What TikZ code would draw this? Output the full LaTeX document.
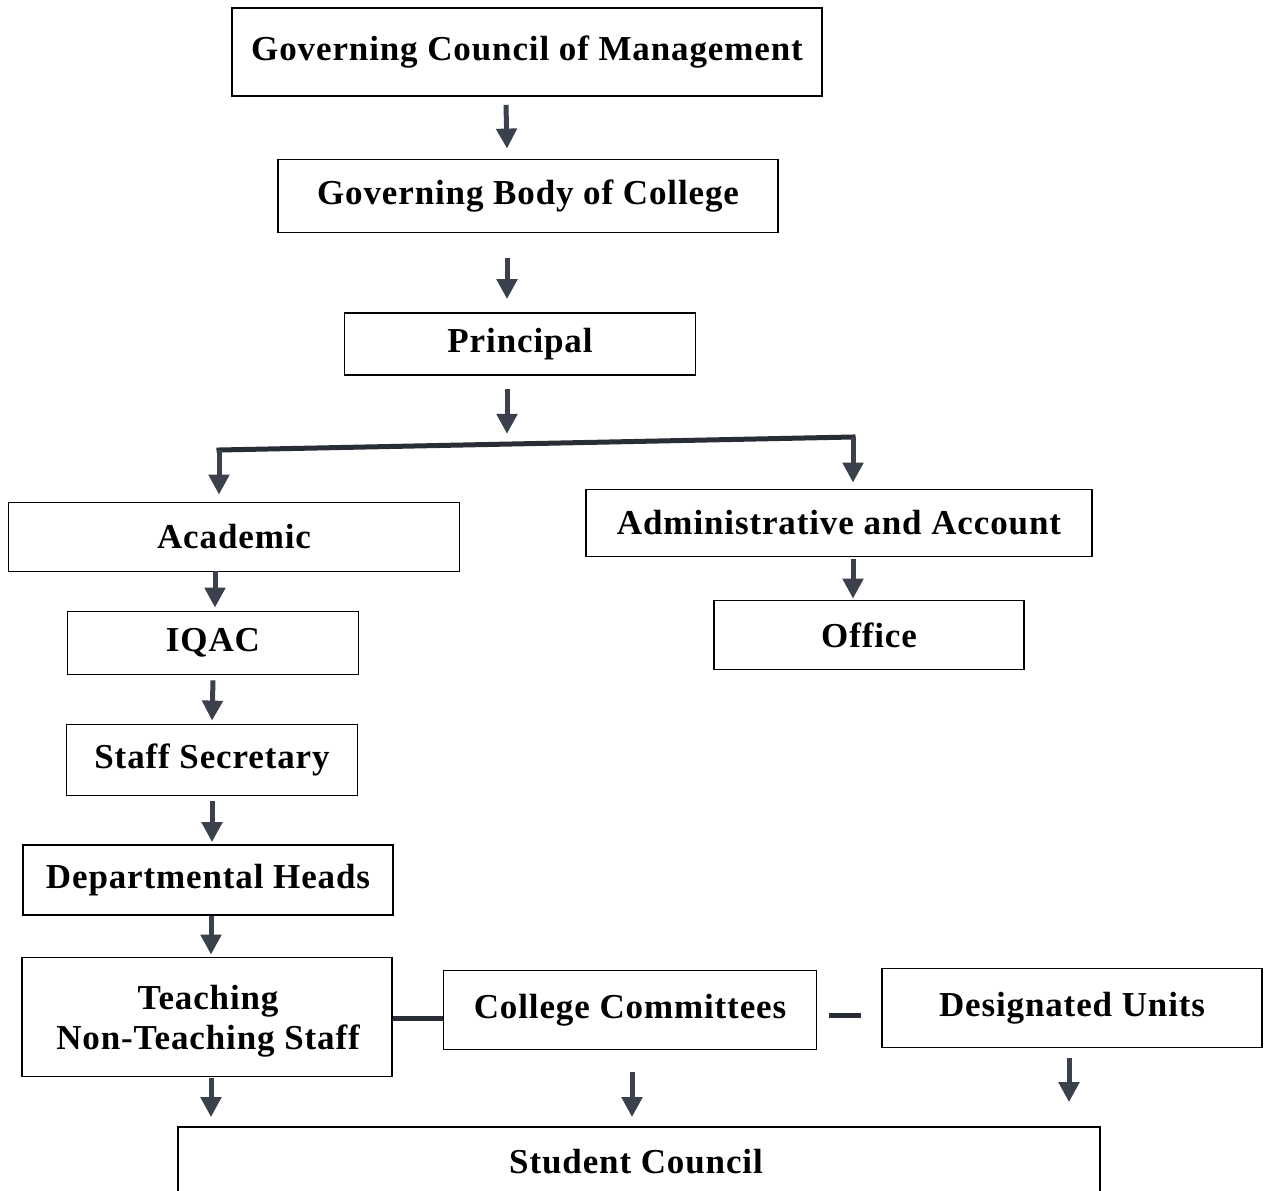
\documentclass[tikz,border=0pt]{standalone}
\usepackage{fontspec}
\setmainfont{Liberation Serif}[LetterSpace=2.5]
\usetikzlibrary{arrows.meta,calc}
\definecolor{arrowgray}{HTML}{3A404C}
\tikzset{
  box/.style={draw=black, line width=1.8pt, inner sep=0pt, align=center,
    font=\bfseries\fontsize{35}{40}\selectfont},
  boxtext/.style={inner sep=0pt, align=center, font=\bfseries\fontsize{35}{40}\selectfont},
  arr/.style={draw=arrowgray, line width=5pt,
    -{Triangle[width=20pt,length=20pt,fill=arrowgray]}},
  bar/.style={draw=arrowgray!70!black, line width=5pt},
}
\begin{document}
\begin{tikzpicture}[x=1pt,y=-1pt]
\useasboundingbox (0,0) rectangle (1266,1191);
\clip (0,0) rectangle (1266,1191);
\fill[white] (0,0) rectangle (1266,1191);

\node[box, minimum width=590pt, minimum height=88pt] (gcm) at (527,52) {Governing Council of Management};
\node[box, minimum width=500pt, minimum height=73pt] (gbc) at (528,196) {Governing Body of College};
\node[box, minimum width=351pt, minimum height=62pt] (pri) at (520,344) {Principal};
\node[box, minimum width=451pt, minimum height=69pt] (aca) at (234,537) {Academic};
\node[box, minimum width=506pt, minimum height=67pt] (adm) at (839,523) {Administrative and Account};
\node[box, minimum width=310pt, minimum height=69pt] (off) at (869,635) {Office};
\node[box, minimum width=291pt, minimum height=63pt] (iqac) at (213,643) {IQAC};
\node[box, minimum width=291pt, minimum height=71pt] (ss) at (212,760) {Staff Secretary};
\node[box, minimum width=370pt, minimum height=70pt] (dh) at (208,880) {Departmental Heads};
\node[box, minimum width=370pt, minimum height=119pt] (ts) at (207,1017) {};
\node[boxtext] (tstext) at (208,1021) {Teaching\\Non-Teaching Staff};
\node[box, minimum width=373pt, minimum height=79pt] (cc) at (630,1010) {College Committees};
\node[box, minimum width=380pt, minimum height=79pt] (du) at (1072,1008) {Designated Units};
\node[box, minimum width=922pt, minimum height=120pt] (sc) at (639,1187) {};
\node[boxtext] (sctext) at (636,1162) {Student Council};

% vertical arrows
\draw[arr] ($(gcm.south)+(-21,8)$) -- ($(gbc.north)+(-21,-10)$);
\draw[arr] ($(gbc.south)+(-21,25)$) -- ($(pri.north)+(-13,-13)$);
\draw[arr] ($(pri.south)+(-13,13)$) -- ($(pri.south)+(-13,58)$);
% branch
\coordinate (bl) at (219,450);
\coordinate (br) at (853,437);
\draw[bar, line cap=rect] (bl) -- (br);
\draw[arr] (bl) -- ($(bl |- aca.north)+(0,-7)$);
\draw[arr] (br) -- ($(br |- adm.north)+(0,-6)$);
\draw[arr] ($(aca.south)+(-19,-1)$) -- ($(iqac.north)+(2,-3)$);
\draw[arr] ($(adm.south)+(14,2)$) -- ($(off.north)+(-16,-1)$);
\draw[arr] ($(iqac.south)+(0,5)$) -- ($(ss.north)+(0,-3)$);
\draw[arr] ($(ss.south)+(0,5)$) -- ($(dh.north)+(4,-2)$);
\draw[arr] ($(dh.south)+(3,0)$) -- ($(ts.north)+(4,-2)$);
% to student council
\draw[arr] ($(ts.south)+(4,1)$) -- ($(sc.north -| ts.south)+(4,-9)$);
\draw[arr] ($(cc.south)+(2,22)$) -- ($(sc.north)+(-7,-9)$);
\draw[arr] ($(du.south)+(-3,10)$) -- ($(sc.north)+(430,-24)$);
% horizontal links
\draw[bar] (ts.east |- 0,1018) -- (cc.west |- 0,1018);
\draw[bar] ($(cc.east)+(12,5)$) -- ($(du.west)+(-20,7)$);
\end{tikzpicture}
\end{document}
